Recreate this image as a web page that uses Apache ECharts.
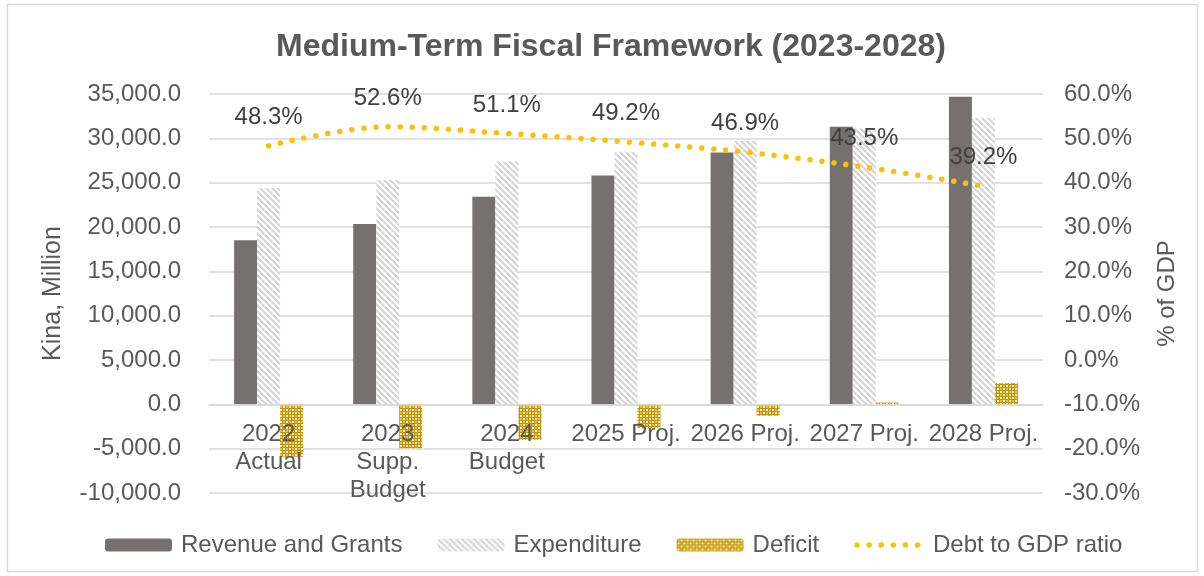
<!DOCTYPE html>
<html>
<head>
<meta charset="utf-8">
<title>Medium-Term Fiscal Framework (2023-2028)</title>
<script src="https://cdn.jsdelivr.net/npm/echarts@6/dist/echarts.min.js"></script>
<style>
  html, body { margin: 0; padding: 0; background: #ffffff; }
  #chart { width: 1204px; height: 576px; }
</style>
</head>
<body>
<div id="chart"></div>
<script>
// Fiscal aggregates, Kina million
const categories = ['2022\nActual', '2023\nSupp.\nBudget', '2024\nBudget', '2025 Proj.', '2026 Proj.', '2027 Proj.', '2028 Proj.'];
const revenueAndGrants = [18500, 20350, 23400, 25800, 28400, 31300, 34700];
const expenditure = [24400, 25300, 27400, 28500, 29700, 31100, 32300];
const deficit = [-5900, -4950, -4000, -2700, -1300, 200, 2400];
// Debt to GDP ratio, percent
const debtToGdp = [48.3, 52.6, 51.1, 49.2, 46.9, 43.5, 39.2];

// Left value axis range
const AMOUNT_MIN = -10000, AMOUNT_MAX = 35000, AMOUNT_STEP = 5000;

const FONT = '"Liberation Sans", Arial, sans-serif';
const TEXT = '#595959';

// Plot area in pixels
const GRID = { left: 209, right: 161, top: 94, bottom: 83 };
const CHART_H = 576;

// Hatched fill for expenditure bars: light grey downward diagonals
function stripePattern() {
  const c = document.createElement('canvas');
  c.width = 6; c.height = 6;
  const g = c.getContext('2d');
  g.fillStyle = '#ffffff';
  g.fillRect(0, 0, 6, 6);
  g.strokeStyle = '#d4d4d4';
  g.lineWidth = 2;
  g.beginPath();
  g.moveTo(-1, -1); g.lineTo(7, 7);
  g.moveTo(-4, 2); g.lineTo(4, 10);
  g.moveTo(2, -4); g.lineTo(10, 4);
  g.stroke();
  return c;
}

// Checkered gold fill for deficit bars
function checkerPattern() {
  const c = document.createElement('canvas');
  c.width = 6; c.height = 6;
  const g = c.getContext('2d');
  g.fillStyle = '#c49400';
  g.fillRect(0, 0, 6, 6);
  g.fillStyle = '#e2c25a';
  g.fillRect(1, 1, 2, 2);
  g.fillRect(4, 4, 2, 2);
  g.fillStyle = '#fbf4dc';
  g.fillRect(4, 1, 2, 2);
  g.fillRect(1, 4, 2, 2);
  return c;
}

const stripeFill = { image: stripePattern(), repeat: 'repeat' };
const checkerFill = { image: checkerPattern(), repeat: 'repeat' };

function fmtThousands(v) {
  return v.toLocaleString('en-US', { minimumFractionDigits: 1, maximumFractionDigits: 1 });
}

// The category axis sits on the zero line of the amount axis
const plotH = CHART_H - GRID.top - GRID.bottom;
const zeroFromBottom = plotH * (0 - AMOUNT_MIN) / (AMOUNT_MAX - AMOUNT_MIN);

const chart = echarts.init(document.getElementById('chart'), null, { renderer: 'canvas' });

chart.setOption({
  animation: false,
  backgroundColor: '#ffffff',
  textStyle: { fontFamily: FONT },
  graphic: [{
    type: 'rect',
    shape: { x: 7.5, y: 4.5, width: 1190, height: 567 },
    style: { fill: 'none', stroke: '#d9d9d9', lineWidth: 1.5 },
    silent: true
  }],
  title: {
    text: 'Medium-Term Fiscal Framework (2023-2028)',
    left: 606,
    textAlign: 'center',
    top: 26,
    textStyle: { fontFamily: FONT, fontSize: 32, fontWeight: 'bold', color: TEXT }
  },
  legend: {
    bottom: 14,
    left: 100,
    itemWidth: 67,
    itemHeight: 13,
    itemGap: 35,
    lineStyle: { width: 5.5 },
    textStyle: { fontFamily: FONT, fontSize: 24, color: TEXT, padding: [0, 0, 0, 4] },
    data: ['Revenue and Grants', 'Expenditure', 'Deficit', 'Debt to GDP ratio']
  },
  grid: Object.assign({ containLabel: false, outerBoundsMode: 'none' }, GRID),
  xAxis: {
    type: 'category',
    data: categories,
    z: 10,
    position: 'bottom',
    offset: -zeroFromBottom,
    axisLine: { show: true, onZero: false, lineStyle: { color: '#d9d9d9', width: 1.5 } },
    axisTick: { show: false },
    axisLabel: {
      fontFamily: FONT, fontSize: 24, color: TEXT,
      lineHeight: 28, margin: 16, interval: 0
    }
  },
  yAxis: [{
    type: 'value',
    min: AMOUNT_MIN, max: AMOUNT_MAX, interval: AMOUNT_STEP,
    name: 'Kina, Million',
    nameLocation: 'middle',
    nameGap: 143,
    nameRotate: 90,
    nameTextStyle: { fontFamily: FONT, fontSize: 25, color: TEXT },
    axisLine: { show: false },
    axisTick: { show: false },
    splitLine: { lineStyle: { color: '#d9d9d9', width: 1.5 } },
    axisLabel: { fontFamily: FONT, fontSize: 24, color: TEXT, margin: 28, formatter: fmtThousands }
  }, {
    type: 'value',
    min: -30, max: 60, interval: 10,
    name: '% of GDP',
    nameLocation: 'middle',
    nameGap: 112,
    nameRotate: 90,
    nameTextStyle: { fontFamily: FONT, fontSize: 24, color: TEXT },
    axisLine: { show: false },
    axisTick: { show: false },
    splitLine: { show: false },
    axisLabel: { fontFamily: FONT, fontSize: 24, color: TEXT, margin: 21, formatter: v => v.toFixed(1) + '%' }
  }],
  series: [{
    name: 'Revenue and Grants',
    type: 'bar',
    data: revenueAndGrants,
    barWidth: 23,
    barGap: '0%',
    itemStyle: { color: '#767171' }
  }, {
    name: 'Expenditure',
    type: 'bar',
    data: expenditure,
    barWidth: 23,
    barGap: '0%',
    itemStyle: { color: stripeFill }
  }, {
    name: 'Deficit',
    type: 'bar',
    data: deficit,
    barWidth: 23,
    barGap: '0%',
    itemStyle: { color: checkerFill }
  }, {
    name: 'Debt to GDP ratio',
    type: 'line',
    yAxisIndex: 1,
    data: debtToGdp,
    smooth: 0.35,
    symbol: 'circle',
    symbolSize: 1,
    showSymbol: true,
    z: 5,
    itemStyle: { color: 'rgba(255,192,0,0)' },
    lineStyle: { color: '#ffc000', width: 5.5, type: [0.1, 12], cap: 'round' },
    label: {
      show: true,
      position: 'top',
      distance: 16,
      fontFamily: FONT,
      fontSize: 24,
      color: '#404040',
      formatter: p => p.value.toFixed(1) + '%'
    }
  }]
});
</script>
</body>
</html>
